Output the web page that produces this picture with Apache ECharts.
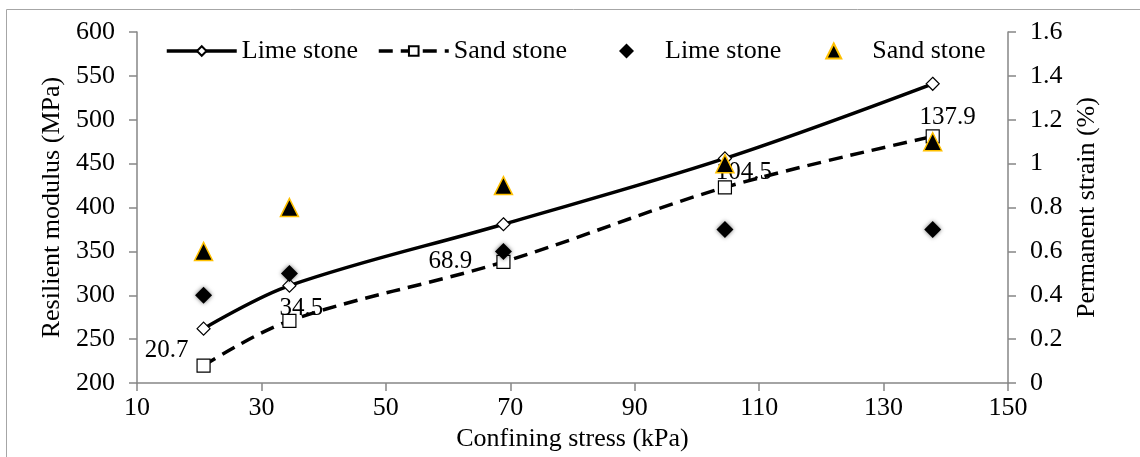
<!DOCTYPE html>
<html>
<head>
<meta charset="utf-8">
<script src="https://cdn.jsdelivr.net/npm/echarts@6/dist/echarts.min.js"></script>
<style>
html,body{margin:0;padding:0;background:#fff;}
#chart{width:1140px;height:457px;}
</style>
</head>
<body>
<div id="chart"></div>
<script>
// ---- data ----
var confiningStress = [20.7, 34.5, 68.9, 104.5, 137.9];
var limeModulus = [262, 311, 381, 456, 541];
var sandModulus = [220, 271, 338, 423, 481];
var limeStrain = [0.4, 0.5, 0.6, 0.7, 0.7];
var sandStrain = [0.6, 0.8, 0.9, 1.0, 1.1];
var seriesNames = ['Lime stone', 'Sand stone'];

var FONT = "'Liberation Serif', 'Times New Roman', serif";

function pairs(xs, ys) {
  return xs.map(function (x, i) { return [x, ys[i]]; });
}

// label placement (style only)
var labelOffsets = [[-37, -15], [12, -12], [-53, -1], [19, -15], [15, -19]];

var sandLineData = pairs(confiningStress, sandModulus).map(function (p, i) {
  return {
    value: p,
    label: { show: true, position: 'inside', offset: labelOffsets[i] }
  };
});

var chart = echarts.init(document.getElementById('chart'), null, { renderer: 'canvas' });

var axisLineStyle = { color: '#868686', width: 1.5 };
var legendText = { fontFamily: FONT, fontSize: 26, color: '#000' };

var option = {
  backgroundColor: '#ffffff',
  animation: false,
  textStyle: { fontFamily: FONT, color: '#000' },
  graphic: [{
    type: 'rect',
    shape: { x: 6.5, y: 9.5, width: 1200, height: 600 },
    style: { fill: 'none', stroke: '#a6a6a6', lineWidth: 1 },
    silent: true,
    z: -10
  }],
  grid: { left: 137, right: 132, top: 32, bottom: 72, containLabel: false },
  legend: [{
    left: 160,
    top: 33,
    itemGap: 19,
    itemWidth: 70,
    itemHeight: 12,
    lineStyle: { width: 'inherit' },
    textStyle: legendText,
    data: [
      { name: seriesNames[0] },
      { name: seriesNames[1] + ' ' }
    ],
    formatter: function (n) { return n.trim(); }
  }, {
    left: 614,
    top: 33,
    itemGap: 44,
    itemWidth: 15,
    itemHeight: 15,
    textStyle: legendText,
    data: [
      { name: seriesNames[0] + '  ' },
      { name: seriesNames[1] + '   ' }
    ],
    formatter: function (n) { return '    ' + n.trim(); }
  }],
  xAxis: {
    type: 'value',
    min: 10, max: 150, interval: 20,
    name: 'Confining stress (kPa)',
    nameLocation: 'middle',
    nameGap: 39,
    nameTextStyle: { fontFamily: FONT, fontSize: 26, color: '#000' },
    axisLine: { show: true, lineStyle: axisLineStyle },
    axisTick: { show: true, length: 8, lineStyle: axisLineStyle },
    axisLabel: { fontFamily: FONT, fontSize: 26, color: '#000', margin: 12 },
    splitLine: { show: false }
  },
  yAxis: [{
    type: 'value',
    min: 200, max: 600, interval: 50,
    position: 'left',
    name: 'Resilient modulus (MPa)',
    nameLocation: 'middle',
    nameGap: 70,
    nameTextStyle: { fontFamily: FONT, fontSize: 26, color: '#000' },
    axisLine: { show: true, lineStyle: axisLineStyle },
    axisTick: { show: true, length: 8, lineStyle: axisLineStyle },
    axisLabel: { fontFamily: FONT, fontSize: 26, color: '#000', margin: 22 },
    splitLine: { show: false }
  }, {
    type: 'value',
    min: 0, max: 1.6, interval: 0.2,
    position: 'right',
    name: 'Permanent strain (%)',
    nameLocation: 'middle',
    nameGap: 66,
    nameRotate: 90,
    nameTextStyle: { fontFamily: FONT, fontSize: 26, color: '#000' },
    axisLine: { show: true, lineStyle: axisLineStyle },
    axisTick: { show: true, length: 8, lineStyle: axisLineStyle },
    axisLabel: { fontFamily: FONT, fontSize: 26, color: '#000', margin: 22 },
    splitLine: { show: false }
  }],
  series: [{
    name: seriesNames[0],
    type: 'line',
    yAxisIndex: 0,
    data: pairs(confiningStress, limeModulus),
    smooth: 0.35,
    symbol: 'diamond',
    symbolSize: 13,
    showAllSymbol: true,
    lineStyle: { color: '#000', width: 3.5 },
    itemStyle: { color: '#fff', borderColor: '#000', borderWidth: 1.2 },
    z: 2
  }, {
    name: seriesNames[1] + ' ',
    type: 'line',
    yAxisIndex: 0,
    data: sandLineData,
    smooth: 0.35,
    symbol: 'rect',
    symbolSize: 13,
    lineStyle: { color: '#000', width: 3.5, type: [14, 8] },
    itemStyle: { color: '#fff', borderColor: '#000', borderWidth: 1.2 },
    label: {
      show: true,
      fontFamily: FONT, fontSize: 25, color: '#000',
      formatter: function (p) { return String(p.value[0]); }
    },
    z: 2
  }, {
    name: seriesNames[0] + '  ',
    type: 'scatter',
    yAxisIndex: 1,
    data: pairs(confiningStress, limeStrain),
    symbol: 'diamond',
    symbolSize: 17,
    itemStyle: { color: '#000', opacity: 1, shadowBlur: 4, shadowColor: 'rgba(0,0,0,0.55)' },
    z: 5
  }, {
    name: seriesNames[1] + '   ',
    type: 'scatter',
    yAxisIndex: 1,
    data: pairs(confiningStress, sandStrain),
    symbol: 'triangle',
    symbolSize: 18,
    itemStyle: { color: '#000', opacity: 1, borderColor: '#FFC000', borderWidth: 1.5 },
    z: 5
  }]
};

chart.setOption(option);
</script>
</body>
</html>
